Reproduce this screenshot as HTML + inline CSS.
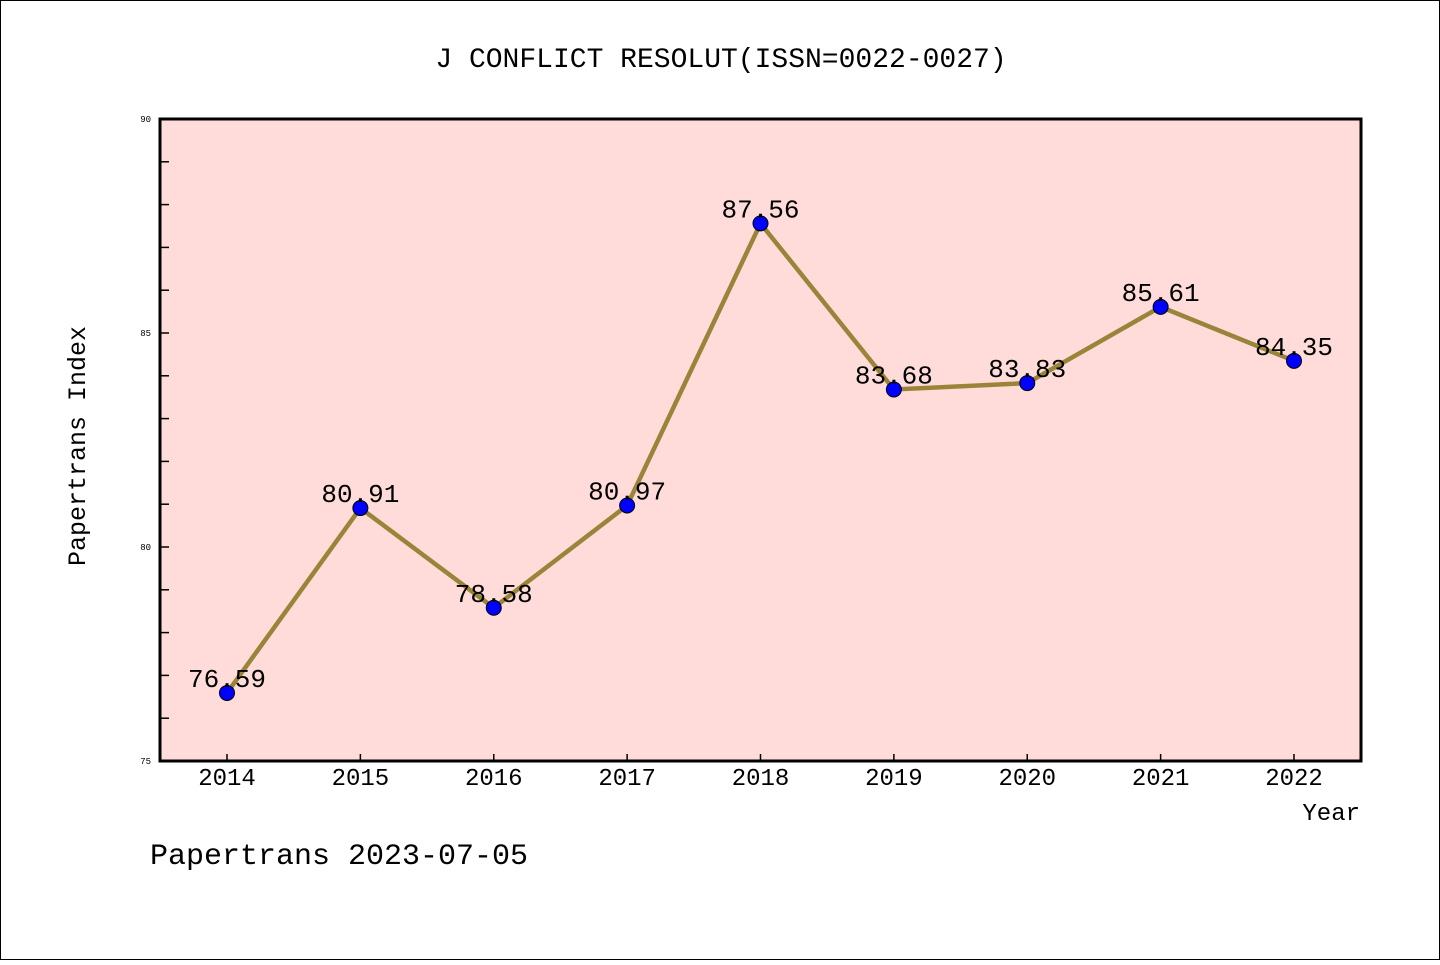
<!DOCTYPE html>
<html><head><meta charset="utf-8"><style>
body{margin:0;background:#fff}
svg text{font-family:"Liberation Mono",monospace}
</style></head><body>
<svg width="1440" height="960" xmlns="http://www.w3.org/2000/svg">
<rect x="0.5" y="0.5" width="1439" height="959" fill="#fff" stroke="#000"/>
<text x="721" y="67" text-anchor="middle" font-size="28">J CONFLICT RESOLUT(ISSN=0022-0027)</text>
<rect x="160" y="119" width="1201" height="642" fill="#ffdcd9"/>
<g id="axes"></g>
<g id="marks"></g>
<rect x="160" y="119" width="1201" height="642" fill="none" stroke="#000" stroke-width="3"/>
<text x="85" y="446" text-anchor="middle" font-size="25" transform="rotate(-90 85 446)">Papertrans Index</text>
<text x="1360" y="820" text-anchor="end" font-size="24">Year</text>
<text x="150" y="864" font-size="30">Papertrans 2023-07-05</text>
</svg>
<script>
const years=[2014,2015,2016,2017,2018,2019,2020,2021,2022];
const values=[76.59,80.91,78.58,80.97,87.56,83.68,83.83,85.61,84.35];
const labels=["76.59","80.91","78.58","80.97","87.56","83.68","83.83","85.61","84.35"];
const yTicks=[75,80,85,90];
const NS="http://www.w3.org/2000/svg";
const x=i=>227+i*(1294-227)/8;
const y=v=>761-(v-75)*642/15;
function mk(t,a,p){const e=document.createElementNS(NS,t);for(const k in a)e.setAttribute(k,a[k]);p.appendChild(e);return e;}
const ax=document.getElementById('axes'),mg=document.getElementById('marks');
for(let v=76;v<90;v++){const l=mk('line',{x1:160,x2:169,y1:y(v),y2:y(v),stroke:'#000','stroke-width':1.5},ax);

}
yTicks.forEach(v=>{const t=mk('text',{x:151,y:y(v)+3,'text-anchor':'end','font-size':9},ax);t.textContent=v;

});
years.forEach((yr,i)=>{const l=mk('line',{x1:x(i),x2:x(i),y1:754,y2:761,stroke:'#000','stroke-width':1.5},ax);


const t=mk('text',{x:x(i),y:785,'text-anchor':'middle','font-size':24},ax);t.textContent=yr;

});
const p=mk('polyline',{points:values.map((v,i)=>x(i)+','+y(v)).join(' '),fill:'none',stroke:'#9a8439','stroke-width':4.5},mg);


values.forEach((v,i)=>{const c=mk('circle',{cx:x(i),cy:y(v),r:7.5,fill:'#0000ff',stroke:'#000','stroke-width':1},mg);


const t=mk('text',{x:x(i),y:y(v)-6,'text-anchor':'middle','font-size':26},mg);t.textContent=labels[i];

});
</script>
</body></html>
